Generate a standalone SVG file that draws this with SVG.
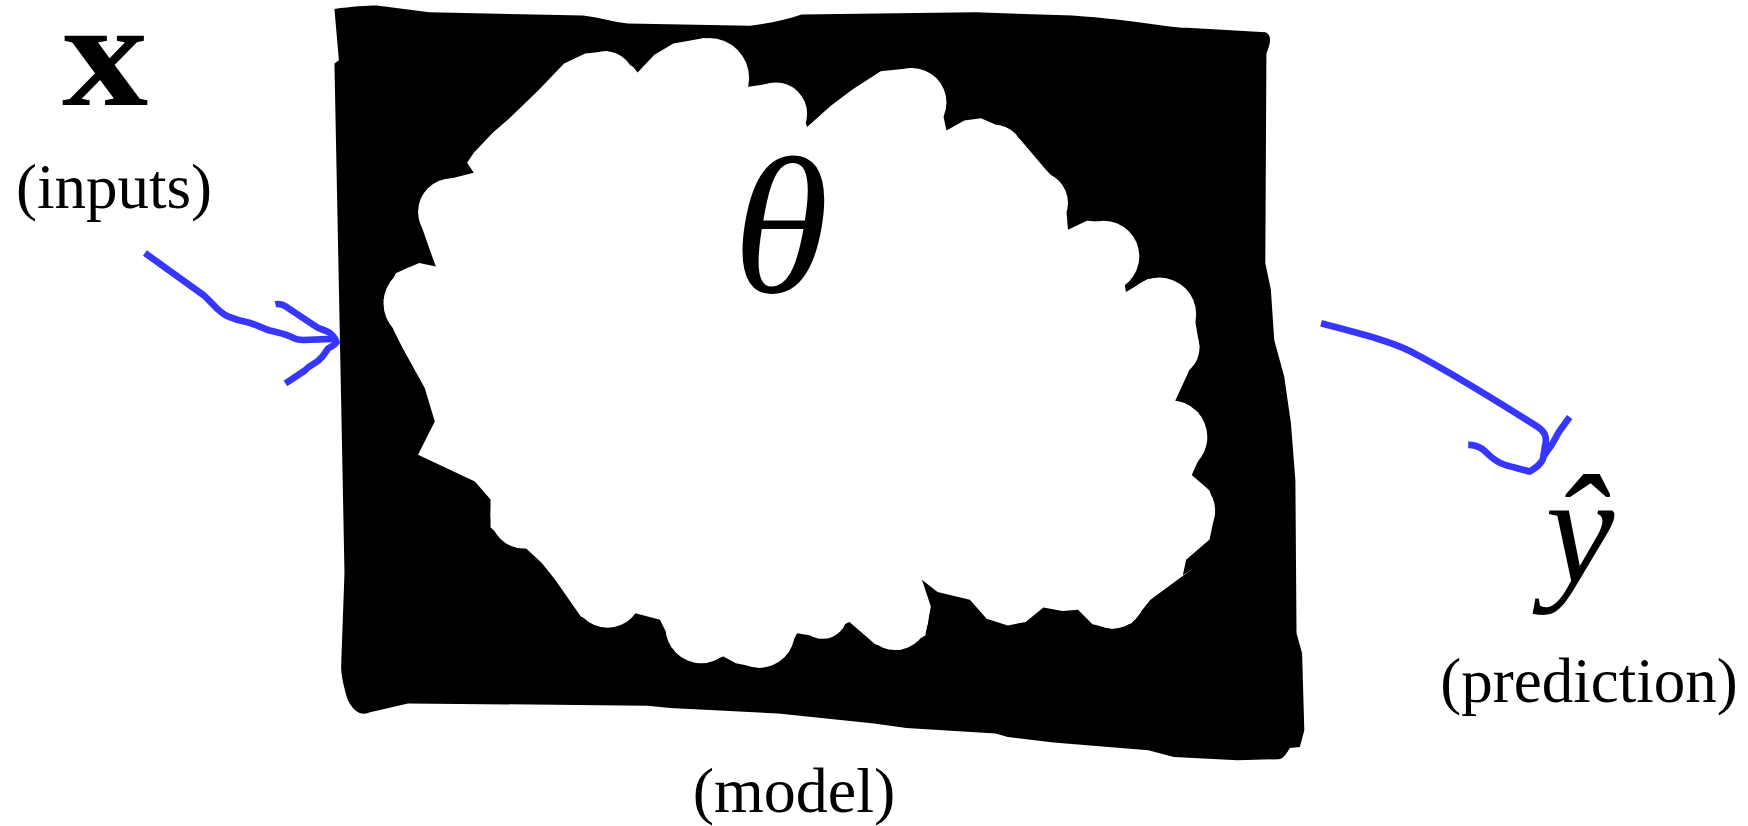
<svg xmlns="http://www.w3.org/2000/svg" width="1748" height="826" viewBox="0 0 1748 826">
<style>
.lbl{font-family:"Liberation Serif","Times New Roman",serif;fill:#000}
.math{font-family:"Liberation Serif","Times New Roman",serif;font-style:italic;fill:#000}
.wire{fill:none;stroke:#3636ff;stroke-width:6;stroke-linecap:butt;stroke-linejoin:round}
.cloud{fill:#fff}
</style>
<rect width="1748" height="826" fill="#fff"/>
<g id="model">
  <g transform="scale(1.1148)">
    <path fill="#000" d="M300,8 C315,6 330,5 338,5 L385,11 L523,14 C540,16 550,20 563,21 L673,23 C690,21 705,18 719,13 L875,11 L962,14 C990,16 1015,19 1036,22 C1050,24 1058,25 1065,25 L1135,29 C1140,31 1141,36 1136,48 L1135,236 L1140,260 L1143,305 L1152,338 L1158,380 L1162,431 L1163,568 L1168,586 L1170,655 L1166,670 L1157,671 C1153,678 1150,681 1147,681 L1110,682 L1053,679 L1030,673 L945,666 L904,661 L893,658 L813,653 L784,649 L698,640 L601,635 L581,633 L366,631 L332,639 C325,642 318,640 312,628 C308,615 306,605 306,598 L309,514 L306,359 L300,57 L304,54 Z"/>
    <g class="cloud">
      <polygon points="419,146 425,137 442,119 457,106 483,81 506,57 525,48 545,46 568,60 572,65 587,49 604,39 632,34 660,45 670,78 690,75 715,88 724,114 745,95 765,80 790,64 818,61 840,75 849,117 865,108 880,106 898,114 915,125 938,152 955,170 958,206 975,198 1000,200 1010,262 1030,250 1060,258 1072,287 1076,311 1066,334 1054,360 1075,370 1083,395 1069,426 1085,440 1090,460 1085,484 1064,502 1061,516 1070,510 1032,538 1015,559 998,564 980,560 967,547 953,548 936,545 920,558 904,561 885,555 870,538 841,531 827,520 835,544 830,570 807,583 785,578 762,558 733,571 715,568 704,589 681,599 660,595 649,589 630,594 610,585 601,574 592,556 570,550 544,562 521,553 498,520 486,505 472,492 455,488 440,473 440,448 426,432 375,408 390,378 381,348 361,312 353,296 344,269 355,245 376,236 391,239 388,231 376,197 385,172 393,163 425,155"/>
      <circle cx="543" cy="72" r="26"/>
      <circle cx="636" cy="70" r="36"/>
      <circle cx="696" cy="102" r="28"/>
      <circle cx="818" cy="92" r="31"/>
      <circle cx="892" cy="138" r="26"/>
      <circle cx="930" cy="182" r="28"/>
      <circle cx="990" cy="230" r="32"/>
      <circle cx="1040" cy="282" r="33"/>
      <circle cx="1050" cy="312" r="26"/>
      <circle cx="1050" cy="392" r="33"/>
      <circle cx="1060" cy="458" r="30"/>
      <circle cx="998" cy="535" r="29"/>
      <circle cx="905" cy="531" r="28"/>
      <circle cx="803" cy="553" r="30"/>
      <circle cx="738" cy="551" r="22"/>
      <circle cx="681" cy="567" r="32"/>
      <circle cx="629" cy="563" r="32"/>
      <circle cx="545" cy="532" r="31"/>
      <circle cx="470" cy="462" r="30"/>
      <circle cx="378" cy="272" r="34"/>
      <circle cx="405" cy="190" r="30"/>
    </g>
  </g>
  <text class="math" x="781" y="292" font-size="195" text-anchor="middle">θ</text>
  <text class="lbl" x="794" y="812" font-size="64" text-anchor="middle">(model)</text>
</g>
<g id="inputs">
  <text class="lbl" transform="translate(105,105) scale(1.15,1)" x="0" y="0" font-size="150" font-weight="bold" text-anchor="middle">x</text>
  <text class="lbl" x="114" y="208" font-size="63" text-anchor="middle">(inputs)</text>
</g>
<g id="prediction">
  <text class="math" x="1580" y="582" font-size="155" text-anchor="middle">ŷ</text>
  <text class="lbl" x="1589" y="702" font-size="63" text-anchor="middle">(prediction)</text>
</g>
<g id="connectors" transform="scale(1.1148)">
  <path class="wire" d="M130,227 L183,265 C190,271 196,281 205,284 C212,287 216,288 222,289 C230,291 236,295 244,297 C252,299 258,300 263,303 C266,305 268,305 272,305 L299,304"/>
  <path class="wire" d="M247,273 C251,272 254,273 258,276 L285,294 C292,297 296,297 300,303 L302,307 C300,310 296,311 294,313 C291,318 290,320 285,324 C281,327 276,329 274,332 L256,344"/>
  <path class="wire" d="M1185,290 C1215,298 1245,305 1265,315 C1300,333 1340,358 1378,382 C1386,387 1388,392 1386,400 L1384,412 C1381,418 1377,420 1372,423 C1365,421 1357,419 1350,417 C1340,414 1336,408 1330,403 C1326,400 1322,399 1317,399"/>
  <path class="wire" d="M1408,374 L1398,388 C1394,395 1392,400 1389,403 L1384,410"/>
</g>
</svg>
